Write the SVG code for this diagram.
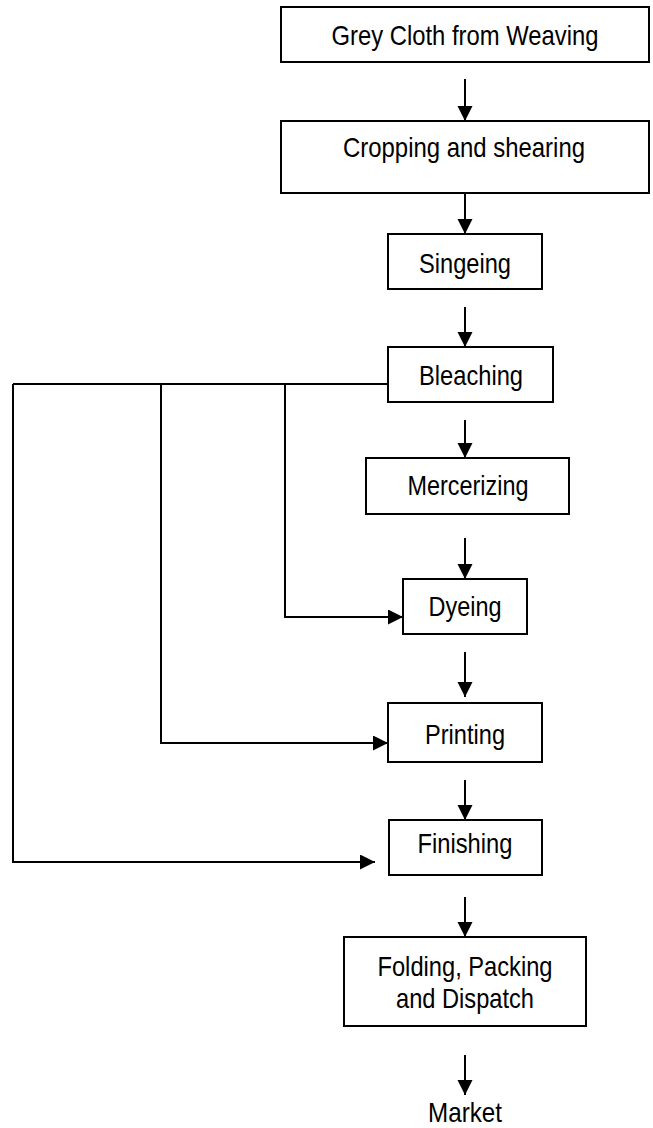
<svg xmlns="http://www.w3.org/2000/svg" width="653" height="1128" viewBox="0 0 653 1128">
  <style>
    .box { fill: #ffffff; stroke: #000000; stroke-width: 2; }
    .lbl { font-family: "Liberation Sans", Arial, sans-serif; font-size: 28px; fill: #000000; text-anchor: middle; }
    .wire { fill: none; stroke: #000000; stroke-width: 2; }
    .flow { fill: none; stroke: #000000; stroke-width: 2; marker-end: url(#head); }
  </style>
  <defs>
    <marker id="head" markerUnits="userSpaceOnUse" markerWidth="16" markerHeight="16" refX="15" refY="7.5" orient="auto">
      <path d="M0,0 L15,7.5 L0,15 Z" fill="#000000"/>
    </marker>
  </defs>
  <rect width="653" height="1128" fill="#ffffff"/>

  <g id="grey-cloth">
    <rect class="box" x="281" y="7" width="368" height="55"/>
    <text class="lbl" x="465" y="45" textLength="267" lengthAdjust="spacingAndGlyphs">Grey Cloth from Weaving</text>
  </g>
  <g id="cropping">
    <rect class="box" x="281" y="121" width="368" height="72"/>
    <text class="lbl" x="464" y="157" textLength="242" lengthAdjust="spacingAndGlyphs">Cropping and shearing</text>
  </g>
  <g id="singeing">
    <rect class="box" x="388" y="234" width="154" height="55"/>
    <text class="lbl" x="465" y="273" textLength="92" lengthAdjust="spacingAndGlyphs">Singeing</text>
  </g>
  <g id="bleaching">
    <rect class="box" x="388" y="347" width="165" height="55"/>
    <text class="lbl" x="471" y="385" textLength="104" lengthAdjust="spacingAndGlyphs">Bleaching</text>
  </g>
  <g id="mercerizing">
    <rect class="box" x="366" y="458" width="203" height="56"/>
    <text class="lbl" x="468" y="495" textLength="121" lengthAdjust="spacingAndGlyphs">Mercerizing</text>
  </g>
  <g id="dyeing">
    <rect class="box" x="403" y="579" width="124" height="55"/>
    <text class="lbl" x="465" y="616" textLength="73" lengthAdjust="spacingAndGlyphs">Dyeing</text>
  </g>
  <g id="printing">
    <rect class="box" x="388" y="703" width="154" height="59"/>
    <text class="lbl" x="465" y="744" textLength="80" lengthAdjust="spacingAndGlyphs">Printing</text>
  </g>
  <g id="finishing">
    <rect class="box" x="389" y="820" width="153" height="55"/>
    <text class="lbl" x="465" y="853" textLength="95" lengthAdjust="spacingAndGlyphs">Finishing</text>
  </g>
  <g id="folding">
    <rect class="box" x="344" y="937" width="242" height="89"/>
    <text class="lbl" x="465" y="976" textLength="175" lengthAdjust="spacingAndGlyphs">Folding, Packing</text>
    <text class="lbl" x="465" y="1008" textLength="138" lengthAdjust="spacingAndGlyphs">and Dispatch</text>
  </g>
  <g id="market">
    <text class="lbl" x="465" y="1122" textLength="74" lengthAdjust="spacingAndGlyphs">Market</text>
  </g>

  <g id="connectors">
    <!-- main vertical flow -->
    <line class="flow" x1="465" y1="79" x2="465" y2="121"/>
    <line class="flow" x1="465" y1="193" x2="465" y2="234"/>
    <line class="flow" x1="465" y1="307" x2="465" y2="347"/>
    <line class="flow" x1="465" y1="420" x2="465" y2="458"/>
    <line class="flow" x1="465" y1="538" x2="465" y2="579"/>
    <line class="flow" x1="465" y1="652" x2="465" y2="697"/>
    <line class="flow" x1="465" y1="780" x2="465" y2="820"/>
    <line class="flow" x1="465" y1="897" x2="465" y2="937"/>
    <line class="flow" x1="465" y1="1055" x2="465" y2="1095"/>
    <!-- bypass branches from bleaching -->
    <path class="wire" d="M388,384 H13"/>
    <path class="flow" d="M285,384 V617 H403"/>
    <path class="flow" d="M161,384 V743 H388"/>
    <path class="flow" d="M13,384 V862 H375"/>
  </g>
</svg>
